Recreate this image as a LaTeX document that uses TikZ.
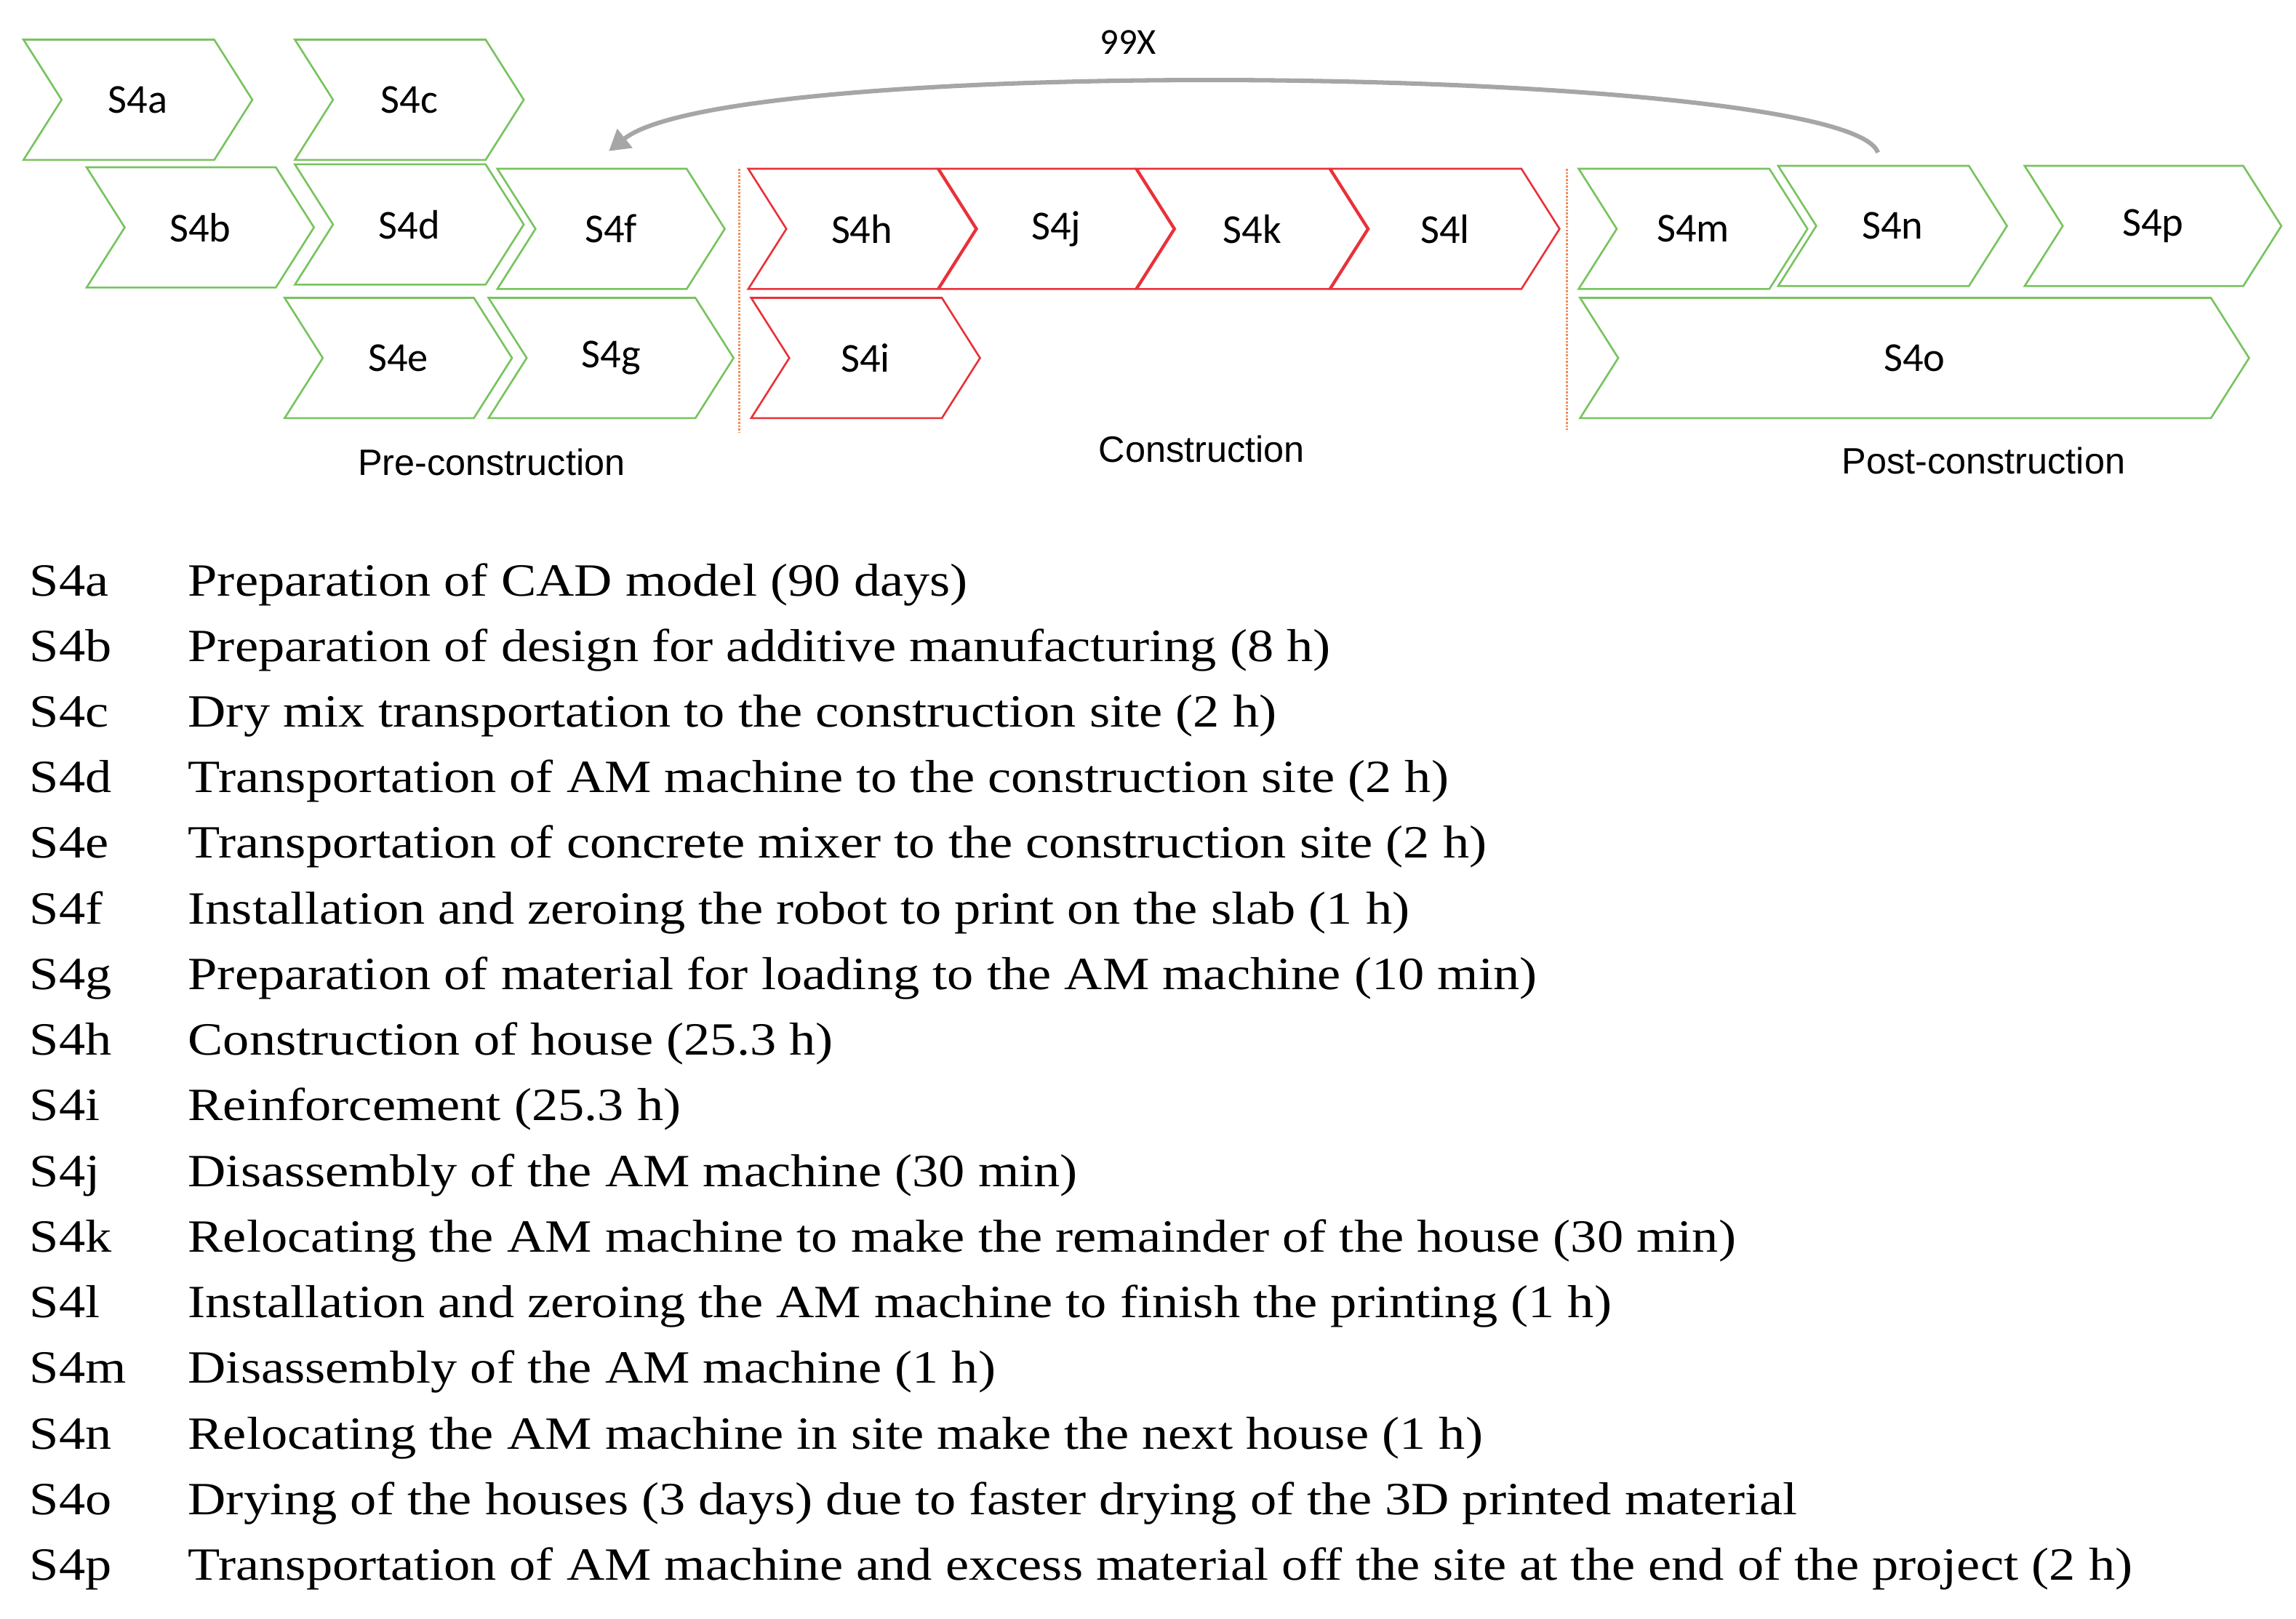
\documentclass[tikz,border=0pt]{standalone}
\usepackage{fontspec}
\setmainfont{Liberation Serif}[FakeStretch=1.14]
\newfontfamily\myCalib{Carlito}
\newfontfamily\myArial{Liberation Sans}
\usetikzlibrary{arrows.meta}
\definecolor{cg}{RGB}{120,195,95}
\definecolor{cr}{RGB}{232,50,58}
\definecolor{co}{RGB}{240,140,90}
\tikzset{chev/.style={line width=1.3pt,line join=miter},
 lab/.style={font=\myCalib\fontsize{28}{32}\selectfont,anchor=center},
 item/.style={font=\fontsize{31.5}{36}\selectfont,anchor=base west,inner sep=0},
 sep/.style={co,densely dotted,line width=1.3pt}}
\newcommand{\mychev}[6]{%
 \draw[chev,#5] (#2,#3) -- (#4-26,#3) -- (#4,#3+41) -- (#4-26,#3+82) -- (#2,#3+82) -- (#2+26,#3+41) -- cycle;
 \node[lab] (#1) at ({(#2+#4)/2},#3+41) {#6};}
\begin{document}
\begin{tikzpicture}[x=1pt,y=-1pt]
\useasboundingbox (0,0) rectangle (1565,1103);
\mychev{a}{16}{27}{172}{cg}{S4a}
\mychev{c}{201}{27}{357}{cg}{S4c}
\mychev{b}{59}{114}{214}{cg}{S4b}
\mychev{d}{201}{112}{357}{cg}{S4d}
\mychev{f}{339}{115}{494}{cg}{S4f}
\mychev{e}{194}{203}{349}{cg}{S4e}
\mychev{g}{333}{203}{500}{cg}{S4g}
\mychev{h}{510}{115}{665}{cr}{S4h}
\mychev{j}{640}{115}{800}{cr}{S4j}
\mychev{k}{775}{115}{932}{cr}{S4k}
\mychev{l}{907}{115}{1063}{cr}{S4l}
\mychev{i}{512}{203}{668}{cr}{S4i}
\mychev{m}{1076}{115}{1232}{cg}{S4m}
\mychev{n}{1212}{113}{1368}{cg}{S4n}
\mychev{p}{1380}{113}{1555}{cg}{S4p}
\mychev{o}{1077}{203}{1533}{cg}{S4o}
\draw[sep] (504,115) -- (504,295);
\draw[sep] (1068,115) -- (1068,293);
\node[font=\myArial\fontsize{25}{30}\selectfont] (pre) at (335,315) {Pre-construction};
\node[font=\myArial\fontsize{25}{30}\selectfont] (con) at (819,306) {Construction};
\node[font=\myArial\fontsize{25}{30}\selectfont] (post) at (1352,314) {Post-construction};
\node[font=\myCalib\fontsize{25}{30}\selectfont] (x99) at (769,29) {99X};
\coordinate (from) at (1280,104);
\coordinate (to) at (415,103);
\draw[gray!70,line width=3pt,-{Triangle[length=14pt,width=16pt]}] (from) .. controls (1260,45) and (500,35) .. (to);
\foreach \n/\s/\t [count=\k from 0] in {
 a/S4a/Preparation of CAD model (90 days),
 b/S4b/Preparation of design for additive manufacturing (8 h),
 c/S4c/Dry mix transportation to the construction site (2 h),
 d/S4d/Transportation of AM machine to the construction site (2 h),
 e/S4e/Transportation of concrete mixer to the construction site (2 h),
 f/S4f/Installation and zeroing the robot to print on the slab (1 h),
 g/S4g/Preparation of material for loading to the AM machine (10 min),
 h/S4h/Construction of house (25.3 h),
 i/S4i/Reinforcement (25.3 h),
 j/S4j/Disassembly of the AM machine (30 min),
 k/S4k/Relocating the AM machine to make the remainder of the house (30 min),
 l/S4l/Installation and zeroing the AM machine to finish the printing (1 h),
 m/S4m/Disassembly of the AM machine (1 h),
 n/S4n/Relocating the AM machine in site make the next house (1 h),
 o/S4o/Drying of the houses (3 days) due to faster drying of the 3D printed material,
 p/S4p/Transportation of AM machine and excess material off the site at the end of the project (2 h)}
 {\node[item] (k\n) at (20,{406+44.73*\k}) {\s};
  \node[item] (t\n) at (128,{406+44.73*\k}) {\t};}
\end{tikzpicture}
\end{document}
